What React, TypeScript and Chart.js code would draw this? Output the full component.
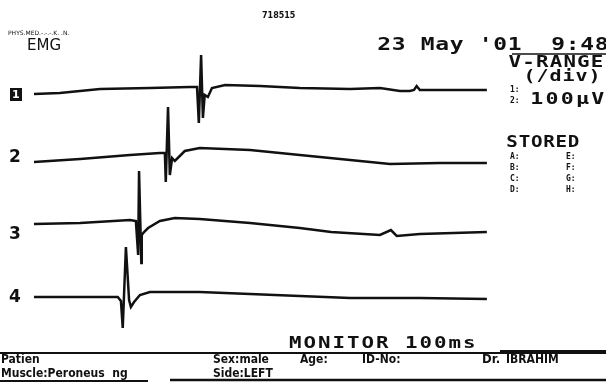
import React, { useEffect, useRef } from "react";
import { Chart, registerables } from "chart.js";

Chart.register(...registerables);

// ---- data (time in ms, amplitude in µV relative to each trace baseline) ----
const traceLabels = ["1", "2", "3", "4"];
const traceOffsets = [-470, -810, -1120, -1485]; // µV baseline of each trace

const t1 = [0, 5.7, 14.6, 25.6, 34.4, 36.0, 36.4, 36.9, 37.3, 37.7, 38.4, 39.3, 42.2, 49.9, 58.7, 69.8, 76.4, 80.8, 83.0, 83.9, 84.5, 85.2, 89.6, 100];
const a1 = [0, 5, 25, 30, 35, 35, -145, 195, -120, -5, -15, 30, 45, 40, 30, 25, 30, 15, 15, 20, 40, 20, 20, 20];

const t2 = [0, 10.2, 21.2, 27.8, 28.9, 29.1, 29.6, 30.0, 30.5, 31.1, 33.3, 36.6, 47.7, 58.7, 69.8, 78.6, 89.6, 100];
const a2 = [0, 15, 35, 45, 45, -100, 275, -65, 20, 5, 55, 70, 60, 35, 10, -10, -5, -5];

const t3 = [0, 10.2, 21.2, 22.5, 23.0, 23.2, 23.7, 23.8, 24.3, 25.2, 27.8, 31.1, 36.6, 47.7, 58.7, 65.6, 76.4, 78.8, 80.1, 85.2, 100];
const a3 = [0, 5, 20, 15, -155, 265, -195, -55, -40, -20, 15, 30, 25, 5, -20, -40, -55, -30, -60, -50, -40];

const t4 = [0, 10.2, 16.8, 18.5, 19.2, 19.6, 20.3, 21.0, 21.4, 22.1, 23.4, 25.6, 36.6, 47.7, 58.7, 69.8, 85.2, 100];
const a4 = [0, 0, 0, 0, -20, -155, 250, -15, -50, -25, 10, 25, 25, 15, 5, -5, -5, -10];

const traceTimes = [t1, t2, t3, t4];
const traceAmps = [a1, a2, a3, a4];

const xMin = -7.5;
const xMax = 126.3;
const yMin = -1915;
const yMax = 0;

const MONO = "'DejaVu Sans Mono'";
const COND = "'DejaVu Sans Condensed', 'Liberation Sans Narrow', 'DejaVu Sans'";

function mono(ctx: CanvasRenderingContext2D, text: string, x: number, y: number, pitch: number, font: string, sx: number) {
  ctx.font = font;
  for (let i = 0; i < text.length; i++) {
    const ch = text[i];
    const w = ctx.measureText(ch).width * sx;
    const cx = x + i * pitch + (pitch - w) / 2;
    ctx.save();
    ctx.translate(cx, y);
    ctx.scale(sx, 1);
    ctx.fillText(ch, 0, 0);
    ctx.restore();
  }
}

function hline(ctx: CanvasRenderingContext2D, x0: number, x1: number, y: number, w: number) {
  ctx.beginPath();
  ctx.lineWidth = w;
  ctx.moveTo(x0, y);
  ctx.lineTo(x1, y);
  ctx.stroke();
}

const textPlugin = {
  id: "emgText",
  afterDraw(chart: any) {
    const ctx: CanvasRenderingContext2D = chart.ctx;
    const ys = chart.scales.y;
    ctx.save();
    ctx.fillStyle = "#111";
    ctx.strokeStyle = "#111";
    ctx.textBaseline = "middle";
    ctx.textAlign = "left";

    // header
    ctx.font = "bold 8px 'DejaVu Sans'";
    ctx.fillText("718515", 262, 16);
    ctx.font = "6px 'DejaVu Sans'";
    ctx.fillText("PHYS.MED.-.-.-.K. .N.", 8, 33);
    ctx.font = "15px 'DejaVu Sans'";
    ctx.fillText("EMG", 27, 46);

    mono(ctx, "23 May '01  9:48", 377, 46, 14.5, "bold 17px " + MONO, 1.35);

    // right panel
    hline(ctx, 512, 606, 54, 1.5);
    mono(ctx, "V-RANGE", 508, 63, 13.7, "bold 16px " + MONO, 1.3);
    mono(ctx, "(/div)", 523, 77, 13, "bold 16px " + MONO, 1.25);
    ctx.font = "bold 8px " + MONO;
    ctx.fillText("1:", 510, 90);
    ctx.fillText("2:", 510, 101);
    mono(ctx, "100µV", 529, 100, 15.3, "bold 16px " + MONO, 1.35);
    mono(ctx, "STORED", 506, 143, 12.3, "bold 16px " + MONO, 1.2);
    ctx.font = "bold 8px " + MONO;
    const left = ["A:", "B:", "C:", "D:"];
    const right = ["E:", "F:", "G:", "H:"];
    for (let i = 0; i < 4; i++) {
      ctx.fillText(left[i], 510, 157 + i * 11);
      ctx.fillText(right[i], 566, 157 + i * 11);
    }

    // trace labels
    for (let i = 0; i < traceLabels.length; i++) {
      const yy = ys.getPixelForValue(traceOffsets[i]);
      const dy = [0, -4, 11, 1][i];
      if (i === 0) {
        ctx.fillRect(10, yy - 6, 12, 13);
        ctx.fillStyle = "#fff";
        ctx.font = "bold 11px 'DejaVu Sans'";
        ctx.fillText(traceLabels[i], 12, yy + 1);
        ctx.fillStyle = "#111";
      } else {
        ctx.font = "bold 17px 'DejaVu Sans'";
        ctx.fillText(traceLabels[i], 9, yy + dy);
      }
    }

    // footer
    mono(ctx, "MONITOR 100ms", 288, 344, 14.5, "bold 16px " + MONO, 1.3);
    hline(ctx, 0, 606, 353, 2);
    hline(ctx, 500, 606, 351, 2);
    hline(ctx, 170, 606, 380, 2.5);
    hline(ctx, 0, 148, 381, 2);

    ctx.font = "bold 12px " + COND;
    ctx.fillText("Patien", 1, 360);
    ctx.fillText("Sex:male", 213, 360);
    ctx.fillText("Age:", 300, 360);
    ctx.fillText("ID-No:", 362, 360);
    ctx.font = "bold 13px " + COND;
    ctx.fillText("Dr.", 482, 360);
    ctx.font = "bold 12px " + COND;
    ctx.fillText("IBRAHIM", 506, 360);
    ctx.fillText("Muscle:Peroneus  ng", 1, 374);
    ctx.fillText("Side:LEFT", 213, 374);
    ctx.restore();
  },
};

export default function App() {
  const ref = useRef<HTMLCanvasElement | null>(null);
  useEffect(() => {
    document.body.style.margin = "0";
    if (!ref.current) return;
    const datasets = traceTimes.map((ts, i) => ({
      label: traceLabels[i],
      data: ts.map((t, j) => ({ x: t, y: traceOffsets[i] + traceAmps[i][j] })),
      borderColor: "#111",
      borderWidth: 2.5,
      pointRadius: 0,
      tension: 0,
      fill: false,
    }));
    const chart = new Chart(ref.current, {
      type: "line",
      data: { datasets },
      options: {
        animation: false,
        responsive: false,
        layout: { padding: 0 },
        plugins: { legend: { display: false }, tooltip: { enabled: false } },
        scales: {
          x: { type: "linear", min: xMin, max: xMax, display: false },
          y: { type: "linear", min: yMin, max: yMax, display: false },
        },
      },
      plugins: [textPlugin],
    });
    return () => chart.destroy();
  }, []);
  return (
    <div style={{ position: "fixed", left: 0, top: 0, width: 606, height: 383, background: "#fff" }}>
      <canvas ref={ref} width={606} height={383} />
    </div>
  );
}
